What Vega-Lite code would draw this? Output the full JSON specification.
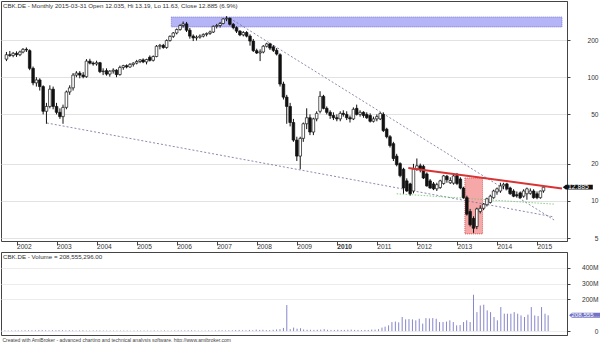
{
  "$schema": "https://vega.github.io/schema/vega-lite/v6.json",
  "padding": 0,
  "background": "white",
  "spacing": 0,
  "config": {
    "font": "Liberation Sans",
    "view": {"stroke": "#444", "strokeWidth": 1},
    "axis": {"labelFont": "Liberation Sans", "labelColor": "#333", "domainColor": "#444", "tickColor": "#444", "gridColor": "#e4e4e4", "labelFontSize": 6.6, "labelOverlap": false},
    "title": {"font": "Liberation Sans", "fontWeight": "normal"}
  },
  "title": {"text": "Created with AmiBroker - advanced charting and technical analysis software. http://www.amibroker.com", "orient": "bottom", "anchor": "start", "fontSize": 5, "color": "#444", "offset": 2, "dx": 2},
  "datasets": {
    "ohlc": [
      {"d":"2001-10-01","o":140,"h":160,"l":135,"c":152,"v":4},
      {"d":"2001-11-01","o":152,"h":163,"l":146,"c":150,"v":4},
      {"d":"2001-12-01","o":150,"h":160,"l":145,"c":156,"v":3},
      {"d":"2002-01-01","o":156,"h":162,"l":146,"c":152,"v":4},
      {"d":"2002-02-01","o":152,"h":164,"l":148,"c":160,"v":4},
      {"d":"2002-03-01","o":160,"h":172,"l":156,"c":168,"v":4},
      {"d":"2002-04-01","o":168,"h":174,"l":160,"c":166,"v":4},
      {"d":"2002-05-01","o":164,"h":168,"l":114,"c":118,"v":5},
      {"d":"2002-06-01","o":118,"h":122,"l":86,"c":90,"v":5},
      {"d":"2002-07-01","o":90,"h":100,"l":84,"c":95,"v":5},
      {"d":"2002-08-01","o":95,"h":98,"l":78,"c":84,"v":5},
      {"d":"2002-09-01","o":84,"h":86,"l":50,"c":53,"v":6},
      {"d":"2002-10-01","o":53,"h":62,"l":42,"c":58,"v":6},
      {"d":"2002-11-01","o":58,"h":86,"l":56,"c":80,"v":5},
      {"d":"2002-12-01","o":80,"h":84,"l":55,"c":58,"v":4},
      {"d":"2003-01-01","o":58,"h":62,"l":50,"c":52,"v":5},
      {"d":"2003-02-01","o":52,"h":56,"l":46,"c":48,"v":5},
      {"d":"2003-03-01","o":48,"h":60,"l":42,"c":57,"v":6},
      {"d":"2003-04-01","o":57,"h":78,"l":55,"c":76,"v":5},
      {"d":"2003-05-01","o":76,"h":86,"l":72,"c":82,"v":4},
      {"d":"2003-06-01","o":82,"h":108,"l":78,"c":104,"v":5},
      {"d":"2003-07-01","o":104,"h":112,"l":100,"c":108,"v":4},
      {"d":"2003-08-01","o":108,"h":112,"l":98,"c":104,"v":3},
      {"d":"2003-09-01","o":104,"h":110,"l":98,"c":101,"v":4},
      {"d":"2003-10-01","o":101,"h":140,"l":99,"c":135,"v":5},
      {"d":"2003-11-01","o":135,"h":141,"l":127,"c":130,"v":3},
      {"d":"2003-12-01","o":130,"h":134,"l":124,"c":128,"v":3},
      {"d":"2004-01-01","o":128,"h":136,"l":124,"c":131,"v":4},
      {"d":"2004-02-01","o":131,"h":133,"l":108,"c":111,"v":4},
      {"d":"2004-03-01","o":111,"h":118,"l":104,"c":112,"v":4},
      {"d":"2004-04-01","o":113,"h":118,"l":103,"c":106,"v":3},
      {"d":"2004-05-01","o":106,"h":114,"l":101,"c":112,"v":3},
      {"d":"2004-06-01","o":112,"h":118,"l":107,"c":114,"v":3},
      {"d":"2004-07-01","o":114,"h":116,"l":100,"c":105,"v":3},
      {"d":"2004-08-01","o":105,"h":124,"l":103,"c":120,"v":3},
      {"d":"2004-09-01","o":120,"h":126,"l":115,"c":124,"v":3},
      {"d":"2004-10-01","o":124,"h":127,"l":118,"c":121,"v":3},
      {"d":"2004-11-01","o":121,"h":130,"l":119,"c":127,"v":3},
      {"d":"2004-12-01","o":127,"h":132,"l":122,"c":130,"v":2},
      {"d":"2005-01-01","o":130,"h":138,"l":127,"c":134,"v":3},
      {"d":"2005-02-01","o":134,"h":140,"l":130,"c":138,"v":3},
      {"d":"2005-03-01","o":138,"h":142,"l":130,"c":133,"v":3},
      {"d":"2005-04-01","o":133,"h":141,"l":127,"c":139,"v":3},
      {"d":"2005-05-01","o":145,"h":150,"l":134,"c":137,"v":3},
      {"d":"2005-06-01","o":137,"h":150,"l":134,"c":147,"v":3},
      {"d":"2005-07-01","o":147,"h":182,"l":145,"c":178,"v":4},
      {"d":"2005-08-01","o":178,"h":186,"l":168,"c":181,"v":3},
      {"d":"2005-09-01","o":181,"h":186,"l":170,"c":174,"v":3},
      {"d":"2005-10-01","o":174,"h":202,"l":170,"c":198,"v":4},
      {"d":"2005-11-01","o":198,"h":218,"l":194,"c":214,"v":3},
      {"d":"2005-12-01","o":214,"h":232,"l":208,"c":228,"v":3},
      {"d":"2006-01-01","o":228,"h":248,"l":222,"c":243,"v":4},
      {"d":"2006-02-01","o":243,"h":268,"l":238,"c":262,"v":4},
      {"d":"2006-03-01","o":262,"h":282,"l":252,"c":270,"v":4},
      {"d":"2006-04-01","o":270,"h":280,"l":232,"c":240,"v":4},
      {"d":"2006-05-01","o":240,"h":250,"l":205,"c":215,"v":5},
      {"d":"2006-06-01","o":215,"h":222,"l":196,"c":208,"v":5},
      {"d":"2006-07-01","o":208,"h":218,"l":198,"c":211,"v":4},
      {"d":"2006-08-01","o":211,"h":222,"l":205,"c":215,"v":3},
      {"d":"2006-09-01","o":215,"h":226,"l":210,"c":222,"v":3},
      {"d":"2006-10-01","o":222,"h":230,"l":214,"c":226,"v":3},
      {"d":"2006-11-01","o":226,"h":238,"l":220,"c":232,"v":4},
      {"d":"2006-12-01","o":232,"h":262,"l":228,"c":258,"v":3},
      {"d":"2007-01-01","o":258,"h":270,"l":248,"c":262,"v":4},
      {"d":"2007-02-01","o":262,"h":280,"l":252,"c":272,"v":5},
      {"d":"2007-03-01","o":272,"h":300,"l":268,"c":296,"v":5},
      {"d":"2007-04-01","o":296,"h":312,"l":284,"c":300,"v":4},
      {"d":"2007-05-01","o":300,"h":304,"l":262,"c":268,"v":5},
      {"d":"2007-06-01","o":268,"h":274,"l":244,"c":252,"v":5},
      {"d":"2007-07-01","o":252,"h":258,"l":228,"c":236,"v":6},
      {"d":"2007-08-01","o":236,"h":240,"l":215,"c":220,"v":7},
      {"d":"2007-09-01","o":220,"h":236,"l":214,"c":230,"v":5},
      {"d":"2007-10-01","o":230,"h":236,"l":210,"c":215,"v":5},
      {"d":"2007-11-01","o":215,"h":222,"l":180,"c":196,"v":7},
      {"d":"2007-12-01","o":196,"h":204,"l":160,"c":164,"v":5},
      {"d":"2008-01-01","o":164,"h":170,"l":154,"c":157,"v":9},
      {"d":"2008-02-01","o":157,"h":168,"l":135,"c":160,"v":7},
      {"d":"2008-03-01","o":160,"h":182,"l":156,"c":178,"v":8},
      {"d":"2008-04-01","o":178,"h":190,"l":174,"c":186,"v":6},
      {"d":"2008-05-01","o":186,"h":190,"l":166,"c":172,"v":6},
      {"d":"2008-06-01","o":176,"h":182,"l":160,"c":165,"v":8},
      {"d":"2008-07-01","o":165,"h":172,"l":150,"c":154,"v":10},
      {"d":"2008-08-01","o":152,"h":156,"l":84,"c":88,"v":12},
      {"d":"2008-09-01","o":88,"h":92,"l":66,"c":69,"v":20},
      {"d":"2008-10-01","o":69,"h":72,"l":42,"c":58,"v":165},
      {"d":"2008-11-01","o":58,"h":62,"l":40,"c":43,"v":12},
      {"d":"2008-12-01","o":43,"h":46,"l":30,"c":31,"v":22},
      {"d":"2009-01-01","o":31,"h":33,"l":21,"c":23,"v":15},
      {"d":"2009-02-01","o":23,"h":33,"l":18,"c":32,"v":18},
      {"d":"2009-03-01","o":32,"h":43,"l":30,"c":42,"v":10},
      {"d":"2009-04-01","o":42,"h":56,"l":38,"c":47,"v":8},
      {"d":"2009-05-01","o":47,"h":50,"l":34,"c":36,"v":8},
      {"d":"2009-06-01","o":36,"h":47,"l":34,"c":46,"v":7},
      {"d":"2009-07-01","o":46,"h":53,"l":44,"c":51,"v":8},
      {"d":"2009-08-01","o":53,"h":77,"l":51,"c":70,"v":9},
      {"d":"2009-09-01","o":70,"h":72,"l":55,"c":56,"v":12},
      {"d":"2009-10-01","o":56,"h":58,"l":50,"c":52,"v":8},
      {"d":"2009-11-01","o":52,"h":54,"l":46,"c":49,"v":7},
      {"d":"2009-12-01","o":49,"h":52,"l":45,"c":47,"v":7},
      {"d":"2010-01-01","o":47,"h":50,"l":44,"c":46,"v":8},
      {"d":"2010-02-01","o":46,"h":53,"l":44,"c":51,"v":7},
      {"d":"2010-03-01","o":51,"h":54,"l":48,"c":50,"v":7},
      {"d":"2010-04-01","o":50,"h":53,"l":45,"c":47,"v":8},
      {"d":"2010-05-01","o":47,"h":49,"l":43,"c":46,"v":9},
      {"d":"2010-06-01","o":46,"h":57,"l":45,"c":55,"v":7},
      {"d":"2010-07-01","o":56,"h":60,"l":49,"c":50,"v":7},
      {"d":"2010-08-01","o":50,"h":54,"l":48,"c":52,"v":6},
      {"d":"2010-09-01","o":52,"h":53,"l":47,"c":49,"v":7},
      {"d":"2010-10-01","o":50,"h":52,"l":46,"c":47,"v":7},
      {"d":"2010-11-01","o":49,"h":51,"l":43,"c":44,"v":9},
      {"d":"2010-12-01","o":44,"h":48,"l":43,"c":46,"v":9},
      {"d":"2011-01-01","o":46,"h":50,"l":44,"c":48,"v":12},
      {"d":"2011-02-01","o":46,"h":52,"l":45,"c":51,"v":22},
      {"d":"2011-03-01","o":50,"h":52,"l":36,"c":37,"v":28},
      {"d":"2011-04-01","o":38,"h":39,"l":32,"c":33,"v":36},
      {"d":"2011-05-01","o":33,"h":34,"l":27,"c":28,"v":57},
      {"d":"2011-06-01","o":29,"h":30,"l":21,"c":22,"v":60},
      {"d":"2011-07-01","o":23,"h":24,"l":19,"c":19.6,"v":55},
      {"d":"2011-08-01","o":20,"h":20.5,"l":15.5,"c":16,"v":89},
      {"d":"2011-09-01","o":18,"h":18.5,"l":11.4,"c":12.7,"v":74},
      {"d":"2011-10-01","o":14.5,"h":15.2,"l":11.8,"c":12.0,"v":76},
      {"d":"2011-11-01","o":13.7,"h":14,"l":11,"c":11.4,"v":74},
      {"d":"2011-12-01","o":12.0,"h":19.9,"l":11.5,"c":18.1,"v":68},
      {"d":"2012-01-01","o":18.1,"h":22,"l":17.5,"c":19.2,"v":78},
      {"d":"2012-02-01","o":19.2,"h":20,"l":17,"c":17.8,"v":47},
      {"d":"2012-03-01","o":19,"h":19.6,"l":15,"c":15.3,"v":82},
      {"d":"2012-04-01","o":16.5,"h":17,"l":13,"c":13.2,"v":80},
      {"d":"2012-05-01","o":14.5,"h":15,"l":12.5,"c":12.7,"v":82},
      {"d":"2012-06-01","o":13.7,"h":14.2,"l":12.2,"c":12.5,"v":78},
      {"d":"2012-07-01","o":12.5,"h":14,"l":12,"c":13.5,"v":57},
      {"d":"2012-08-01","o":12.8,"h":14.8,"l":12.5,"c":14.5,"v":57},
      {"d":"2012-09-01","o":13.8,"h":16.2,"l":13.5,"c":15.9,"v":60},
      {"d":"2012-10-01","o":15.8,"h":16.2,"l":14,"c":14.8,"v":68},
      {"d":"2012-11-01","o":14.0,"h":15.5,"l":13.7,"c":14.6,"v":57},
      {"d":"2012-12-01","o":13.9,"h":16.5,"l":13.5,"c":15.9,"v":36},
      {"d":"2013-01-01","o":16.0,"h":16.8,"l":13.4,"c":13.8,"v":38},
      {"d":"2013-02-01","o":15.0,"h":15.5,"l":12.4,"c":12.7,"v":57},
      {"d":"2013-03-01","o":12.7,"h":13,"l":10.4,"c":10.6,"v":68},
      {"d":"2013-04-01","o":10.6,"h":11,"l":7.6,"c":7.8,"v":57},
      {"d":"2013-05-01","o":8.2,"h":8.6,"l":6.2,"c":6.4,"v":230},
      {"d":"2013-06-01","o":7.2,"h":7.5,"l":5.5,"c":6.0,"v":120},
      {"d":"2013-07-01","o":6.2,"h":8.8,"l":5.9,"c":8.6,"v":162},
      {"d":"2013-08-01","o":8.2,"h":9.2,"l":7.9,"c":8.7,"v":167},
      {"d":"2013-09-01","o":8.7,"h":9.6,"l":8.4,"c":9.4,"v":131},
      {"d":"2013-10-01","o":9.3,"h":10.6,"l":9.0,"c":10.4,"v":120},
      {"d":"2013-11-01","o":9.7,"h":11.2,"l":9.5,"c":10.9,"v":89},
      {"d":"2013-12-01","o":10.6,"h":12.3,"l":10.4,"c":12.0,"v":68},
      {"d":"2014-01-01","o":11.8,"h":12.8,"l":11.2,"c":12.5,"v":152},
      {"d":"2014-02-01","o":12.0,"h":14.0,"l":11.6,"c":13.2,"v":110},
      {"d":"2014-03-01","o":13.2,"h":14.0,"l":12.4,"c":13.6,"v":110},
      {"d":"2014-04-01","o":13.7,"h":14.0,"l":12.2,"c":12.5,"v":110},
      {"d":"2014-05-01","o":12.7,"h":13.0,"l":11.2,"c":11.4,"v":120},
      {"d":"2014-06-01","o":12.0,"h":12.4,"l":10.7,"c":10.9,"v":110},
      {"d":"2014-07-01","o":11.2,"h":11.9,"l":10.6,"c":11.0,"v":99},
      {"d":"2014-08-01","o":11.6,"h":11.9,"l":10.4,"c":10.6,"v":89},
      {"d":"2014-09-01","o":10.9,"h":12.4,"l":10.6,"c":12.0,"v":104},
      {"d":"2014-10-01","o":11.4,"h":12.8,"l":10.2,"c":12.5,"v":152},
      {"d":"2014-11-01","o":11.5,"h":12.6,"l":11.2,"c":12.0,"v":99},
      {"d":"2014-12-01","o":12.0,"h":12.4,"l":10.4,"c":10.6,"v":95},
      {"d":"2015-01-01","o":11.4,"h":11.9,"l":10.3,"c":10.6,"v":152},
      {"d":"2015-02-01","o":10.6,"h":12.1,"l":10.4,"c":12.0,"v":110},
      {"d":"2015-03-01","o":12.035,"h":13.19,"l":11.63,"c":12.885,"v":100}
    ],
    "zones": [
      {"zone":"blue","t1":"2005-11-13","t2":"2015-08-17","p1":255,"p2":307},
      {"zone":"red","t1":"2013-03-14","t2":"2013-08-22","p1":5.4,"p2":15.3}
    ],
    "trend": [
      {"name":"support 2003","t1":"2002-10-05","p1":42.6,"t2":"2015-06-06","p2":7.4},
      {"name":"resistance 2007","t1":"2007-05-01","p1":300,"t2":"2015-06-06","p2":7.0},
      {"name":"green","t1":"2011-07-01","p1":11.4,"t2":"2015-06-06","p2":9.4},
      {"name":"red","t1":"2011-10-15","p1":18.4,"t2":"2015-08-17","p2":12.6}
    ]
  },
  "vconcat": [
    {
      "width": 566,
      "height": 240,
      "title": {"text": "CBK.DE - Monthly 2015-03-31 Open 12.035, Hi 13.19, Lo 11.63, Close 12.885 (6.9%)", "anchor": "start", "fontSize": 6.2, "color": "#333", "offset": -8, "dx": 2},
      "layer": [
        {
          "data": {"name": "zones"},
          "transform": [{"filter": "datum.zone == 'blue'"}],
          "mark": {"type": "rect", "fill": "#b4b4f6", "stroke": "#6a6ad8", "strokeWidth": 0.8, "strokeDash": [1, 1], "clip": true},
          "encoding": {
            "x": {"field": "t1", "type": "temporal"},
            "x2": {"field": "t2"},
            "y": {"field": "p1", "type": "quantitative"},
            "y2": {"field": "p2"}
          }
        },
        {
          "data": {"name": "zones"},
          "transform": [{"filter": "datum.zone == 'red'"}],
          "mark": {"type": "rect", "fill": "#f6a8a8", "stroke": "#d04848", "strokeWidth": 0.8, "strokeDash": [1, 1], "clip": true},
          "encoding": {
            "x": {"field": "t1", "type": "temporal"},
            "x2": {"field": "t2"},
            "y": {"field": "p1", "type": "quantitative"},
            "y2": {"field": "p2"}
          }
        },
        {
          "data": {"name": "trend"},
          "transform": [{"filter": "datum.name != 'red' && datum.name != 'green'"}],
          "mark": {"type": "rule", "stroke": "#6c6c9c", "strokeWidth": 0.8, "strokeDash": [2, 2], "clip": true},
          "encoding": {
            "x": {"field": "t1", "type": "temporal"},
            "x2": {"field": "t2"},
            "y": {"field": "p1", "type": "quantitative"},
            "y2": {"field": "p2"}
          }
        },
        {
          "data": {"name": "trend"},
          "transform": [{"filter": "datum.name == 'green'"}],
          "mark": {"type": "rule", "stroke": "#70c070", "strokeWidth": 0.8, "strokeDash": [1.5, 1.5], "clip": true},
          "encoding": {
            "x": {"field": "t1", "type": "temporal"},
            "x2": {"field": "t2"},
            "y": {"field": "p1", "type": "quantitative"},
            "y2": {"field": "p2"}
          }
        },
        {
          "data": {"name": "ohlc"},
          "mark": {"type": "rule", "stroke": "#111", "strokeWidth": 1, "clip": true},
          "encoding": {
            "x": {"field": "d", "type": "temporal", "scale": {"domain": ["2001-09-27", "2015-08-17"]},
              "axis": {"title": null, "grid": false, "tickCount": {"interval": "year", "step": 1}, "format": "%Y", "tickSize": 4, "labelAlign": "left", "labelDx": 1, "labelBaseline": "top", "labelPadding": -2, "labelFontSize": 6.6, "domain": false,
                "labelFontWeight": {"condition": {"test": "year(datum.value) == 2010", "value": "bold"}, "value": "normal"}}},
            "y": {"field": "l", "type": "quantitative", "scale": {"type": "log", "domain": [4.73, 413.6], "nice": false},
              "axis": {"orient": "right", "title": null, "values": [5, 10, 20, 50, 100, 200], "format": "d", "tickSize": 3, "labelAlign": "right", "labelPadding": 28, "labelOverlap": false, "grid": true, "gridColor": "#e2e2e2"}},
            "y2": {"field": "h"}
          }
        },
        {
          "data": {"name": "ohlc"},
          "mark": {"type": "bar", "width": 2.6, "stroke": "#111", "strokeWidth": 0.7, "clip": true},
          "encoding": {
            "x": {"field": "d", "type": "temporal"},
            "y": {"field": "o", "type": "quantitative"},
            "y2": {"field": "c"},
            "fill": {"condition": {"test": "datum.c >= datum.o", "value": "white"}, "value": "#111"}
          }
        },
        {
          "data": {"name": "trend"},
          "transform": [{"filter": "datum.name == 'red'"}],
          "mark": {"type": "rule", "stroke": "#d83434", "strokeWidth": 2, "clip": true},
          "encoding": {
            "x": {"field": "t1", "type": "temporal"},
            "x2": {"field": "t2"},
            "y": {"field": "p1", "type": "quantitative"},
            "y2": {"field": "p2"}
          }
        },
        {
          "data": {"name": "ohlc"},
          "transform": [{"filter": "datum.o == 12.035"}],
          "mark": {"type": "point", "filled": true, "fill": "#111", "strokeWidth": 0, "opacity": 1, "size": 900, "shape": "M-1,0 L-0.8,-0.16 L1,-0.16 L1,0.16 L-0.8,0.16 Z"},
          "encoding": {
            "x": {"datum": {"year": 2016, "month": 1, "date": 8}, "type": "temporal"},
            "y": {"field": "c", "type": "quantitative"}
          }
        },
        {
          "data": {"name": "ohlc"},
          "transform": [{"filter": "datum.o == 12.035"}],
          "mark": {"type": "text", "color": "white", "fontSize": 6.8, "align": "center", "baseline": "middle"},
          "encoding": {
            "x": {"datum": {"year": 2016, "month": 1, "date": 14}, "type": "temporal"},
            "y": {"field": "c", "type": "quantitative"},
            "text": {"field": "c", "type": "quantitative", "format": ".3f"}
          }
        }
      ]
    },
    {
      "width": 566,
      "height": 83,
      "title": {"text": "CBK.DE - Volume = 208,555,296.00", "anchor": "start", "fontSize": 6.2, "color": "#333", "offset": -8, "dx": 2},
      "data": {"name": "ohlc"},
      "encoding": {
        "y": {"field": "v", "type": "quantitative", "scale": {"domain": [-25, 501], "nice": false, "zero": false},
          "axis": {"orient": "right", "title": null, "values": [0, 200, 300, 400], "labelExpr": "datum.value == 0 ? '0' : datum.value + 'M'", "tickSize": 3, "labelAlign": "right", "labelPadding": 28, "labelOverlap": false, "grid": true, "gridColor": "#ececec"}}
      },
      "layer": [
        {
          "mark": {"type": "rule", "stroke": "#8686cc", "strokeWidth": 1, "clip": true},
          "encoding": {
            "x": {"field": "d", "type": "temporal", "scale": {"domain": ["2001-09-27", "2015-08-17"]}, "axis": null},
            "y2": {"datum": 0}
          }
        },
        {
          "transform": [{"filter": "datum.o == 12.035"}],
          "mark": {"type": "point", "filled": true, "fill": "#7474c4", "strokeWidth": 0, "opacity": 1, "size": 1024, "shape": "M-1,0 L-0.82,-0.16 L1,-0.16 L1,0.16 L-0.82,0.16 Z"},
          "encoding": {
            "x": {"datum": {"year": 2016, "month": 1, "date": 26}, "type": "temporal"}
          }
        },
        {
          "transform": [{"filter": "datum.o == 12.035"}],
          "mark": {"type": "text", "color": "white", "fontSize": 6.2, "align": "left", "baseline": "middle", "limit": 29, "ellipsis": ""},
          "encoding": {
            "x": {"datum": {"year": 2015, "month": 9, "date": 25}, "type": "temporal"},
            "text": {"value": "208,555,296"}
          }
        }
      ]
    }
  ]
}
